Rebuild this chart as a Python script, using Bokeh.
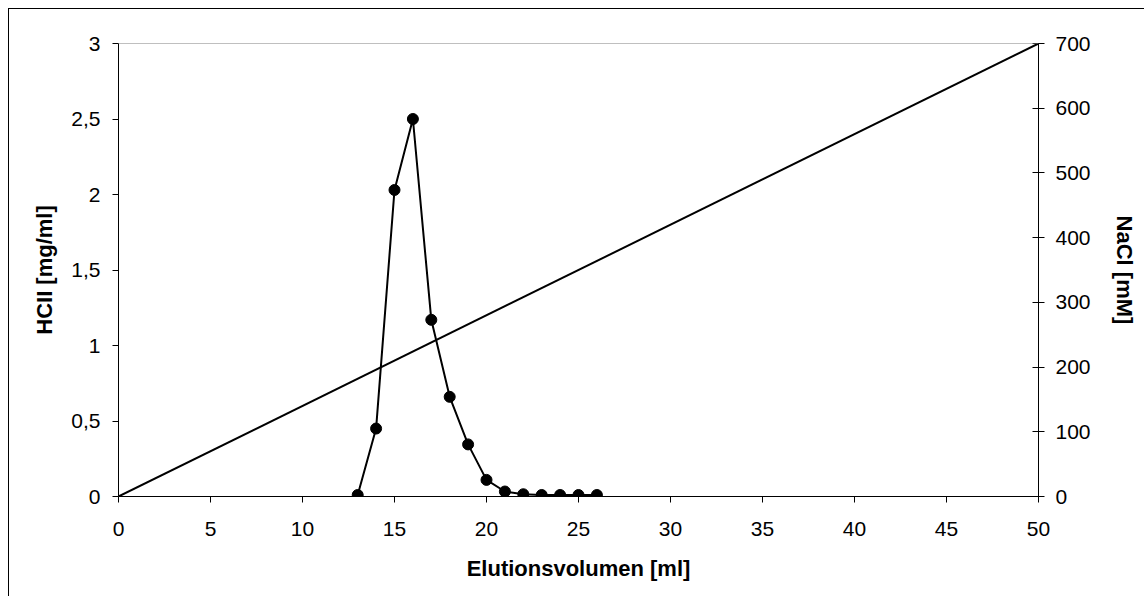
from bokeh.plotting import figure
from bokeh.models import Range1d, LinearAxis, FixedTicker, CustomJSTickFormatter, Span
from bokeh.embed import file_html
from bokeh.resources import INLINE

# ---- data ----
elution_ml = [13, 14, 15, 16, 17, 18, 19, 20, 21, 22, 23, 24, 25, 26]
hcii_mg_ml = [0.01, 0.45, 2.03, 2.50, 1.17, 0.66, 0.345, 0.11, 0.033, 0.015, 0.01, 0.01, 0.01, 0.01]
nacl_x = [0, 50]
nacl_mM = [0, 700]
x_ticks = [0, 5, 10, 15, 20, 25, 30, 35, 40, 45, 50]
left_ticks = [0, 0.5, 1, 1.5, 2, 2.5, 3]
right_ticks = [0, 100, 200, 300, 400, 500, 600, 700]
x_title = "Elutionsvolumen [ml]"
left_title = "HCII [mg/ml]"
right_title = "NaCl [mM]"

FONT = "Liberation Sans"

p = figure(width=1136, height=588, output_backend="svg", toolbar_location=None,
           x_range=Range1d(0, 50), y_range=Range1d(0, 3),
           min_border_left=109, min_border_right=107, min_border_top=34, min_border_bottom=101,
           background_fill_color="white", border_fill_color="white")
p.styles = {"margin-left": "8px", "margin-top": "8px",
            "border-left": "1px solid black", "border-top": "1px solid black"}
p.outline_line_color = None
p.grid.visible = False
p.extra_y_ranges = {"nacl": Range1d(0, 700)}

# top edge of plot area (grey)
p.add_layout(Span(location=3, dimension="width", line_color="#808080", line_width=1))

# axes styling
def style_axis(ax):
    ax.axis_line_color = "black"
    ax.axis_line_width = 1
    ax.major_tick_line_color = "black"
    ax.major_tick_line_width = 1
    ax.minor_tick_line_color = None
    ax.major_label_text_font = FONT
    ax.major_label_text_font_size = "21px"
    ax.major_label_text_color = "black"
    ax.axis_label_text_font = FONT
    ax.axis_label_text_font_size = "22px"
    ax.axis_label_text_font_style = "bold"
    ax.axis_label_text_color = "black"

xa = p.xaxis[0]
style_axis(xa)
xa.ticker = FixedTicker(ticks=x_ticks)
xa.major_tick_in = 0
xa.major_tick_out = 6
xa.major_label_standoff = 19
xa.axis_label = x_title
xa.axis_label_standoff = 17

ya = p.yaxis[0]
style_axis(ya)
ya.ticker = FixedTicker(ticks=left_ticks)
ya.formatter = CustomJSTickFormatter(code="return tick.toString().replace('.', ',');")
ya.major_tick_in = 0
ya.major_tick_out = 6
ya.major_label_standoff = 12
ya.axis_label = left_title
ya.axis_label_standoff = 11

ra = LinearAxis(y_range_name="nacl")
style_axis(ra)
ra.ticker = FixedTicker(ticks=right_ticks)
ra.major_tick_in = 6
ra.major_tick_out = 6
ra.major_label_standoff = 11
ra.axis_label = right_title
ra.axis_label_standoff = 18
p.add_layout(ra, "right")

# NaCl gradient line
p.line(nacl_x, nacl_mM, y_range_name="nacl", line_color="black", line_width=2)

# HCII elution profile
p.line(elution_ml, hcii_mg_ml, line_color="black", line_width=2)
p.scatter(elution_ml, hcii_mg_ml, size=11, fill_color="black", line_color="black")

open("out.html", "w").write(file_html(p, INLINE))
